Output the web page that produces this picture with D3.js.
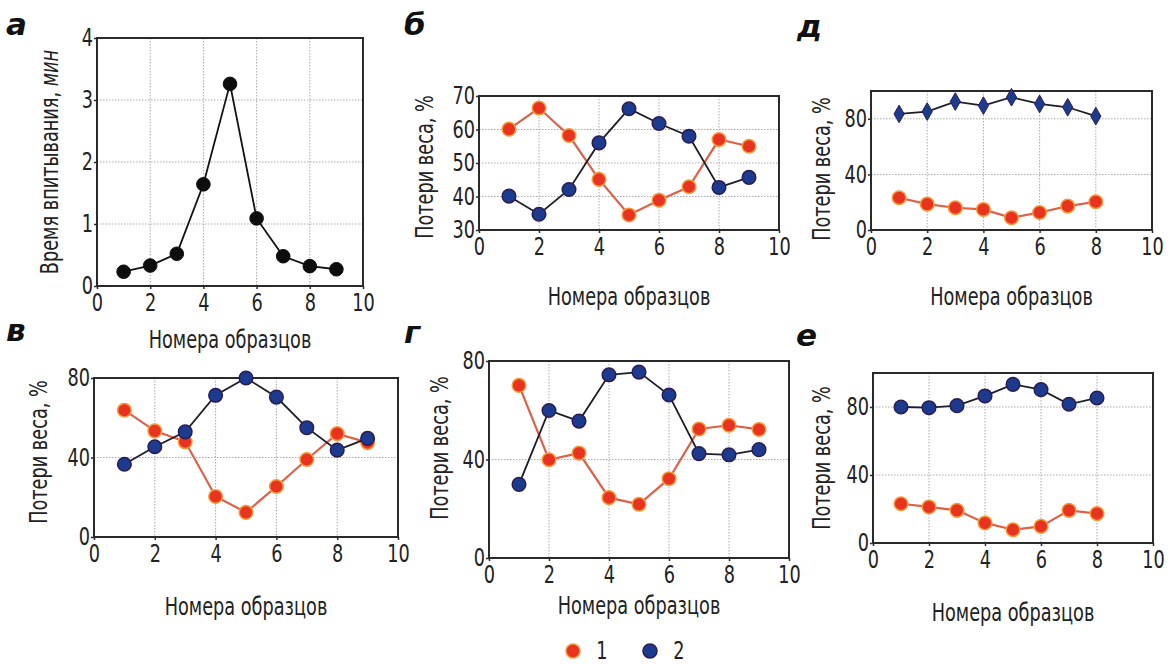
<!DOCTYPE html>
<meta charset="utf-8">
<script src="https://d3js.org/d3.v7.min.js"></script>
<style>
body { margin: 0; background: #fff; }
text { font-family: "Liberation Sans Narrow", "DejaVu Sans Condensed", sans-serif; fill: #222; }
.letter { font-family: "DejaVu Sans", sans-serif; font-weight: bold; font-style: italic; font-size: 31px; fill: #111; }
.grid line { stroke: #aaa; stroke-width: 1; stroke-dasharray: 1.5, 1.5; }
.frame { fill: none; stroke: #2a2a2a; stroke-width: 2; }
.axis path { display: none; }
.axis line { stroke: #2a2a2a; stroke-width: 1.5; }
.axis text { font-size: 24px; fill: #222; }
.title { font-size: 24px; }
</style>
<body>
<script>

// sample numbers (x axis)
var samples9 = [1, 2, 3, 4, 5, 6, 7, 8, 9];
var samples8 = [1, 2, 3, 4, 5, 6, 7, 8];
var xTicks = [0, 2, 4, 6, 8, 10];

// а: absorption time, min
var timeA = [0.23, 0.33, 0.52, 1.64, 3.26, 1.09, 0.48, 0.32, 0.27];

// б
var lossB1 = [60.1, 66.4, 58.2, 45.1, 34.5, 38.9, 42.9, 57, 55];
var lossB2 = [40.1, 34.7, 42.1, 56, 66.2, 61.8, 58, 42.7, 45.7];

// в
var lossV1 = [63.8, 53.4, 47.9, 20.4, 12.4, 25.4, 39, 52, 47.5];
var lossV2 = [36.6, 45.4, 52.9, 71.3, 80, 70.4, 55, 43.7, 49.6];

// г
var lossG1 = [70.1, 39.9, 42.6, 24.5, 21.8, 32.2, 52.4, 53.9, 52.2];
var lossG2 = [29.9, 59.9, 55.6, 74.4, 75.5, 66.2, 42.4, 41.9, 44];

// д
var lossD1 = [23.2, 18.6, 16, 14.8, 8.8, 12.6, 17.2, 20.3];
var lossD2 = [83.5, 85.2, 92.4, 89.5, 95.5, 90.7, 88.3, 81.9];

// е
var lossE1 = [23.1, 21.2, 19.2, 11.8, 7.8, 9.8, 19.2, 17.3];
var lossE2 = [80, 79.6, 80.8, 86.5, 93.3, 90.2, 81.6, 85.3];

var legendLabels = ["1", "2"];

var width = 1173, height = 664;
var squeeze = "scale(0.82,1)";   // the book uses a condensed face

var svg = d3.select("body").append("svg")
    .attr("width", width)
    .attr("height", height);

var panels = [
  { letter: "а", lx: 6, ly: 35, box: [97, 38, 363, 286], y: [0, 4], yt: [0, 1, 2, 3, 4],
    ytitle: "a", tx: 50, ty: 162, xtitleY: 348, xs: samples9, series: [{v: timeA, kind: "black"}] },
  { letter: "б", lx: 404, ly: 35, box: [479, 96, 779, 230], y: [30, 70], yt: [30, 40, 50, 60, 70],
    ytitle: "loss", tx: 425, ty: 167, xtitleY: 305, xs: samples9,
    series: [{v: lossB1, kind: "red"}, {v: lossB2, kind: "blue"}] },
  { letter: "д", lx: 797, ly: 37, box: [871, 91, 1152, 230], y: [0, 100], yt: [0, 40, 80],
    ytitle: "loss", tx: 822, ty: 169, xtitleY: 305, xs: samples8,
    series: [{v: lossD1, kind: "red"}, {v: lossD2, kind: "diamond"}] },
  { letter: "в", lx: 6, ly: 341, box: [94, 378, 398, 537], y: [0, 80], yt: [0, 40, 80],
    ytitle: "loss", tx: 39, ty: 452, xtitleY: 615, xs: samples9,
    series: [{v: lossV1, kind: "red"}, {v: lossV2, kind: "blue"}] },
  { letter: "г", lx: 404, ly: 343, box: [489, 361, 789, 558], y: [0, 80], yt: [0, 40, 80],
    ytitle: "loss", tx: 440, ty: 448, xtitleY: 614, xs: samples9,
    series: [{v: lossG1, kind: "red"}, {v: lossG2, kind: "blue"}] },
  { letter: "е", lx: 796, ly: 346, box: [873, 373, 1153, 543], y: [0, 100], yt: [0, 40, 80],
    ytitle: "loss", tx: 822, ty: 458, xtitleY: 621, xs: samples8,
    series: [{v: lossE1, kind: "red"}, {v: lossE2, kind: "blue"}] }
];

var red = { fill: "#e8341e", stroke: "#f59a3a", line: "#de6048" };
var blue = { fill: "#1c3b8e", stroke: "#2b1c55", line: "#1e1e28" };

panels.forEach(function(p) {
  var b = p.box;
  var x = d3.scaleLinear().domain([0, 10]).range([b[0], b[2]]);
  var y = d3.scaleLinear().domain(p.y).range([b[3], b[1]]);
  var g = svg.append("g");

  // grid
  var grid = g.append("g").attr("class", "grid");
  grid.selectAll(".gx").data(xTicks.slice(1, -1)).enter().append("line")
      .attr("x1", function(d) { return x(d); }).attr("x2", function(d) { return x(d); })
      .attr("y1", b[1]).attr("y2", b[3]);
  grid.selectAll(".gy").data(p.yt.filter(function(t) { return t > p.y[0] && t < p.y[1]; }))
      .enter().append("line")
      .attr("x1", b[0]).attr("x2", b[2])
      .attr("y1", function(d) { return y(d); }).attr("y2", function(d) { return y(d); });

  // axes
  g.append("g").attr("class", "axis")
      .attr("transform", "translate(0," + b[3] + ")")
      .call(d3.axisBottom(x).tickValues(xTicks).tickFormat(d3.format("d")).tickSize(3).tickPadding(5))
      .selectAll("text").attr("transform", squeeze);
  g.append("g").attr("class", "axis")
      .attr("transform", "translate(" + b[0] + ",0)")
      .call(d3.axisLeft(y).tickValues(p.yt).tickFormat(d3.format("d")).tickSize(3).tickPadding(2))
      .selectAll("text").attr("transform", squeeze);

  g.append("rect").attr("class", "frame")
      .attr("x", b[0]).attr("y", b[1])
      .attr("width", b[2] - b[0]).attr("height", b[3] - b[1]);

  // titles
  g.append("text").attr("class", "letter").attr("x", p.lx).attr("y", p.ly).text(p.letter);

  g.append("text").attr("class", "title")
      .attr("transform", "translate(" + ((b[0] + b[2]) / 2) + "," + p.xtitleY + ") " + squeeze)
      .attr("text-anchor", "middle")
      .text("Номера образцов");

  var yt = g.append("text").attr("class", "title")
      .attr("text-anchor", "middle")
      .attr("transform", "translate(" + p.tx + "," + p.ty + ") rotate(-90) " + squeeze)
      .attr("dy", "0.35em");
  if (p.ytitle == "a") {
    yt.append("tspan").text("Время впитывания, ");
    yt.append("tspan").style("font-style", "italic").text("мин");
  } else {
    yt.text("Потери веса, %");
  }

  // series
  p.series.forEach(function(s) {
    var pts = s.v.map(function(v, i) { return [p.xs[i], v]; });
    var c = s.kind == "red" ? red : (s.kind == "black" ? null : blue);
    var line = d3.line().x(function(d) { return x(d[0]); }).y(function(d) { return y(d[1]); });
    g.append("path").datum(pts)
        .attr("d", line)
        .attr("fill", "none")
        .attr("stroke", c ? c.line : "#111")
        .attr("stroke-width", s.kind == "red" ? 2.2 : 1.8);

    if (s.kind == "diamond") {
      g.selectAll(null).data(pts).enter().append("path")
          .attr("d", d3.symbol().type(d3.symbolDiamond).size(90))
          .attr("transform", function(d) { return "translate(" + x(d[0]) + "," + y(d[1]) + ")"; })
          .attr("fill", c.fill).attr("stroke", c.stroke).attr("stroke-width", 1);
    } else {
      g.selectAll(null).data(pts).enter().append("circle")
          .attr("cx", function(d) { return x(d[0]); })
          .attr("cy", function(d) { return y(d[1]); })
          .attr("r", 6.8)
          .attr("fill", c ? c.fill : "#0d0d0d")
          .attr("stroke", c ? c.stroke : "#0d0d0d")
          .attr("stroke-width", c ? 1.5 : 1);
    }
  });
});

// legend
var legend = svg.append("g");
var legendX = d3.scalePoint().domain(legendLabels).range([573, 650]);
legendLabels.forEach(function(l, i) {
  var c = i == 0 ? red : blue;
  legend.append("circle").attr("cx", legendX(l)).attr("cy", 651).attr("r", 7)
      .attr("fill", c.fill).attr("stroke", c.stroke).attr("stroke-width", 1.5);
  legend.append("text").attr("class", "title")
      .attr("transform", "translate(" + (legendX(l) + 29) + ",659) " + squeeze)
      .attr("text-anchor", "middle")
      .text(l);
});

</script>
</body>
